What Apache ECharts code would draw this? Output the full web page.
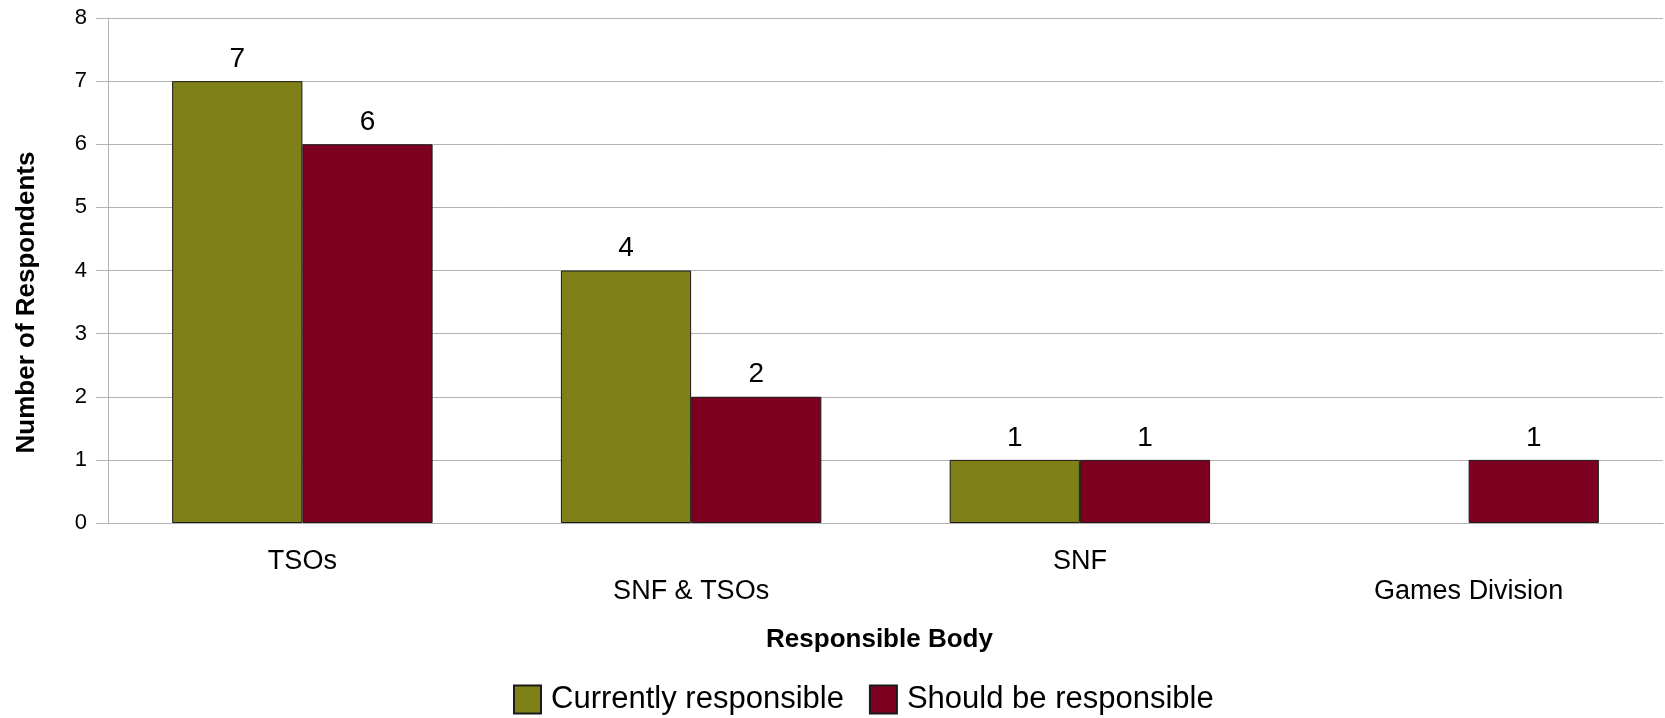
<!DOCTYPE html>
<html>
<head>
<meta charset="utf-8">
<script src="https://cdn.jsdelivr.net/npm/echarts@6/dist/echarts.min.js"></script>
<style>html,body{margin:0;padding:0;background:#fff}#c{width:1665px;height:718px}</style>
</head>
<body>
<div id="c"></div>
<script>
const categories = ['TSOs', 'SNF & TSOs', 'SNF', 'Games Division'];
const currentlyResponsible = [7, 4, 1, 0];
const shouldBeResponsible = [6, 2, 1, 1];
const yTicks = [0, 1, 2, 3, 4, 5, 6, 7, 8];

const FONT = 'Liberation Sans';
const chart = echarts.init(document.getElementById('c'));
const valueLabel = {
  show: true, position: 'top', distance: 8,
  fontFamily: FONT, fontSize: 28, color: '#000',
  formatter: p => String(p.value)
};
const toBars = arr => arr.map(v => (v === 0 ? '-' : v));
chart.setOption({
  animation: false,
  textStyle: { fontFamily: FONT },
  grid: { left: 108, right: 2, top: 18, bottom: 195, containLabel: false },
  legend: {
    left: 508, top: 679,
    icon: 'rect',
    itemWidth: 27, itemHeight: 28, itemGap: 25,
    textStyle: { fontFamily: FONT, fontSize: 31, color: '#000', padding: [0, 0, 0, 5] },
    data: ['Currently responsible', 'Should be responsible']
  },
  xAxis: {
    type: 'category', data: categories,
    name: 'Responsible Body', nameLocation: 'middle', nameGap: 104,
    nameTextStyle: { fontFamily: FONT, fontSize: 26, fontWeight: 'bold', color: '#000', padding: [0, 12, 0, 0] },
    axisLine: { lineStyle: { color: '#b3b3b3' } },
    axisTick: { alignWithLabel: true, length: 10, lineStyle: { color: '#b3b3b3' } },
    axisLabel: {
      fontFamily: FONT, fontSize: 27, color: '#000', lineHeight: 30, margin: 24,
      interval: 0,
      formatter: (v, i) => (i % 2 === 1 ? '\n' + v : v)
    }
  },
  yAxis: {
    type: 'value', min: yTicks[0], max: yTicks[yTicks.length - 1], interval: 1,
    name: 'Number of Respondents', nameLocation: 'middle', nameGap: 68,
    nameTextStyle: { fontFamily: FONT, fontSize: 26, fontWeight: 'bold', color: '#000', padding: [0, 64, 0, 0] },
    axisLine: { show: true, lineStyle: { color: '#b3b3b3' } },
    axisTick: { show: true, length: 12, lineStyle: { color: '#b3b3b3' } },
    axisLabel: {
      color: '#000', margin: 21,
      formatter: v => '{n|' + v + '}',
      rich: { n: { fontFamily: FONT, fontSize: 22, color: '#000' } }
    },
    splitLine: { lineStyle: { color: '#b3b3b3' } }
  },
  series: [
    {
      name: 'Currently responsible', type: 'bar', data: toBars(currentlyResponsible),
      barGap: '0%', barCategoryGap: '33%',
      itemStyle: { color: '#808019', borderColor: '#1a1a1a', borderWidth: 1 },
      label: valueLabel
    },
    {
      name: 'Should be responsible', type: 'bar', data: toBars(shouldBeResponsible),
      barGap: '0%', barCategoryGap: '33%',
      itemStyle: { color: '#7e0021', borderColor: '#1a1a1a', borderWidth: 1 },
      label: valueLabel
    }
  ]
});
</script>
</body>
</html>
